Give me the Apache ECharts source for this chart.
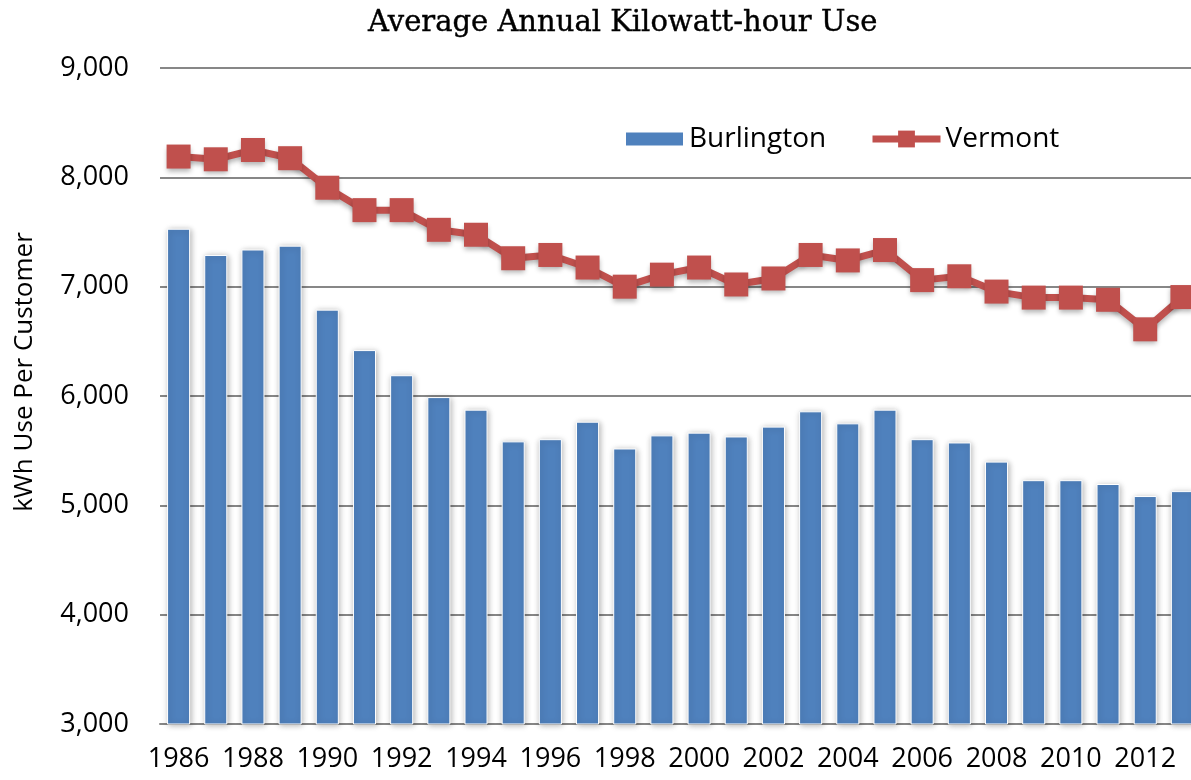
<!DOCTYPE html>
<html>
<head>
<meta charset="utf-8">
<script src="https://cdn.jsdelivr.net/npm/echarts@6/dist/echarts.min.js"></script>
<style>
  html, body { margin: 0; padding: 0; background: #fff; overflow: hidden; }
  /* plot runs a little past the right edge, as in the original */
  #chart { width: 1201px; height: 780px; }
</style>
</head>
<body>
<div id="chart"></div>
<script>
  var years = ['1986', '1987', '1988', '1989', '1990', '1991', '1992', '1993', '1994', '1995',
    '1996', '1997', '1998', '1999', '2000', '2001', '2002', '2003', '2004', '2005',
    '2006', '2007', '2008', '2009', '2010', '2011', '2012', '2013'];
  var burlington = [7530, 7290, 7340, 7375, 6790, 6420, 6190, 5990, 5875, 5585,
    5605, 5765, 5520, 5640, 5665, 5630, 5720, 5860, 5750, 5875,
    5605, 5575, 5400, 5230, 5230, 5195, 5085, 5130];
  var vermont = [8190, 8165, 8250, 8175, 7905, 7700, 7700, 7520, 7475, 7260,
    7290, 7175, 7000, 7110, 7175, 7020, 7075, 7290, 7240, 7335,
    7060, 7095, 6955, 6900, 6900, 6880, 6610, 6905];
  var yTicks = [3000, 4000, 5000, 6000, 7000, 8000, 9000];

  var chart = echarts.init(document.getElementById('chart'));
  var font = 'Open Sans';
  var legendText = { fontFamily: font, fontSize: 28, color: '#000' };

  var option = {
    animation: false,
    title: {
      text: 'Average Annual Kilowatt-hour Use',
      left: 363,
      top: 4,
      textStyle: {
        fontFamily: 'DejaVu Serif',
        fontWeight: 'normal',
        fontSize: 29,
        color: '#000',
        textBorderColor: '#000',
        textBorderWidth: 0.4
      }
    },
    legend: [
      {
        left: 619,
        top: 120,
        itemWidth: 59,
        itemHeight: 15,
        textStyle: legendText,
        data: [{ name: 'Burlington', icon: 'rect' }]
      },
      {
        left: 864,
        top: 120,
        itemWidth: 68,
        itemHeight: 21,
        textStyle: legendText,
        data: [{ name: 'Vermont', lineStyle: { width: 7 } }]
      }
    ],
    grid: {
      left: 160,
      right: 0,
      top: 68,
      bottom: 56
    },
    xAxis: {
      type: 'category',
      data: years,
      axisLine: { lineStyle: { color: '#868686', width: 2 } },
      axisTick: { length: 12, lineStyle: { color: '#868686', width: 2 } },
      axisLabel: {
        interval: 1,
        margin: 22,
        fontFamily: font,
        fontSize: 27,
        color: '#000'
      }
    },
    yAxis: {
      type: 'value',
      min: yTicks[0],
      max: yTicks[yTicks.length - 1],
      interval: 1000,
      name: 'kWh Use Per Customer',
      nameLocation: 'middle',
      nameGap: 122,
      nameTextStyle: {
        fontFamily: font,
        fontSize: 26,
        color: '#000',
        padding: [0, 0, 0, 48]
      },
      axisLine: { show: false },
      axisTick: { show: false },
      splitLine: { lineStyle: { color: '#878787', width: 2 } },
      axisLabel: {
        margin: 31,
        fontFamily: font,
        fontSize: 27,
        color: '#000',
        formatter: function (v) {
          return v.toLocaleString('en-US');
        }
      }
    },
    series: [
      {
        name: 'Burlington',
        type: 'bar',
        data: burlington,
        barCategoryGap: '38%',
        itemStyle: {
          color: '#4F81BD',
          borderColor: '#ffffff',
          borderWidth: 1,
          shadowBlur: 6,
          shadowColor: 'rgba(0,0,0,0.3)',
          shadowOffsetX: 1,
          shadowOffsetY: 1
        }
      },
      {
        name: 'Vermont',
        type: 'line',
        data: vermont,
        symbol: 'rect',
        symbolSize: 24,
        lineStyle: {
          color: '#C0504D',
          width: 7,
          shadowBlur: 5,
          shadowColor: 'rgba(0,0,0,0.3)',
          shadowOffsetY: 3
        },
        itemStyle: {
          color: '#C0504D',
          shadowBlur: 5,
          shadowColor: 'rgba(0,0,0,0.3)',
          shadowOffsetY: 3
        }
      }
    ]
  };

  chart.setOption(option);
</script>
</body>
</html>
